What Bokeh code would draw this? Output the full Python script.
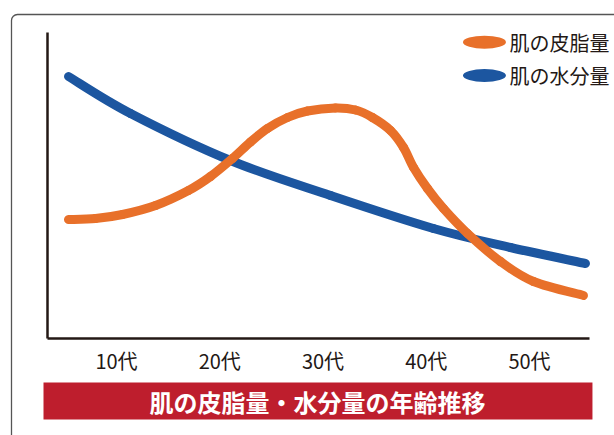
from bokeh.plotting import figure
from bokeh.models import Range1d, BoxAnnotation, Label, FixedTicker
from bokeh.embed import file_html
from bokeh.resources import INLINE

# age (years) and relative level
sebum_age = [5.35, 7.97, 10.58, 13.78, 16.97, 19.1, 21.23, 22.98, 24.62, 26.56, 28.5, 31.21, 33.15,
             34.79, 36.54, 37.8, 38.77, 40.12, 41.67, 44.0, 47.19, 50.39, 55.23]
sebum_level = [119, 120, 124, 133, 148, 162, 180, 196.5, 210, 221, 227.5, 230.5, 228.5,
               221, 208, 191, 171, 150, 130, 105, 77, 57, 43]

water_age = [5.35, 11.36, 21.04, 30.73, 40.7, 48.16, 55.42]
water_level = [262, 225, 178, 143, 110, 91, 75]

tick_values = [10, 20, 30, 40, 50]
tick_labels = ["10代", "20代", "30代", "40代", "50代"]

series_names = ["肌の皮脂量", "肌の水分量"]
series_colors = ["#e8702a", "#1c56a0"]
title_text = "肌の皮脂量・水分量の年齢推移"

FONT = "Noto Sans CJK JP"
INK = "#231815"

AGE_MIN, AGE_MAX = 3.32, 55.8
LEVEL_MAX = 306

p = figure(width=614, height=435, output_backend="svg", toolbar_location=None,
           x_range=Range1d(-1.235, 58.235), y_range=Range1d(-97, 338),
           min_border=0)
p.outline_line_color = None
p.grid.visible = False
p.background_fill_color = "white"
p.border_fill_color = "white"

# axes placed at fixed data positions
p.xaxis.fixed_location = 0
p.yaxis.fixed_location = AGE_MIN
p.xaxis.bounds = (AGE_MIN, AGE_MAX)
p.yaxis.bounds = (0, LEVEL_MAX)
p.xaxis.ticker = FixedTicker(ticks=tick_values)
p.xaxis.major_label_overrides = {v: l for v, l in zip(tick_values, tick_labels)}
p.xaxis.major_label_text_font = FONT
p.xaxis.major_label_text_font_size = "20px"
p.xaxis.major_label_text_color = INK
p.xaxis.major_label_standoff = 7
p.yaxis.ticker = FixedTicker(ticks=[])
p.yaxis.major_label_text_font_size = "0px"
for ax in (p.xaxis, p.yaxis):
    ax.axis_line_color = INK
    ax.axis_line_width = 2.5
    ax.major_tick_out = 0
    ax.major_tick_in = 0
    ax.minor_tick_out = 0
    ax.minor_tick_in = 0


def smooth_segments(xs, ys):
    """Catmull-Rom control points for drawing a smooth curve through the read points."""
    n = len(xs)
    out = {k: [] for k in ("x0", "y0", "x1", "y1", "cx0", "cy0", "cx1", "cy1")}
    for i in range(n - 1):
        xm, ym = (xs[i - 1], ys[i - 1]) if i > 0 else (xs[i], ys[i])
        xp, yp = (xs[i + 2], ys[i + 2]) if i + 2 < n else (xs[i + 1], ys[i + 1])
        out["x0"].append(xs[i]); out["y0"].append(ys[i])
        out["x1"].append(xs[i + 1]); out["y1"].append(ys[i + 1])
        out["cx0"].append(xs[i] + (xs[i + 1] - xm) / 6)
        out["cy0"].append(ys[i] + (ys[i + 1] - ym) / 6)
        out["cx1"].append(xs[i + 1] - (xp - xs[i]) / 6)
        out["cy1"].append(ys[i + 1] - (yp - ys[i]) / 6)
    return out


for xs, ys, col in ((water_age, water_level, series_colors[1]), (sebum_age, sebum_level, series_colors[0])):
    seg = smooth_segments(xs, ys)
    p.bezier(line_width=9, line_color=col, line_cap="round", **seg)

# legend
leg_x = [45.64, 45.64]
leg_y = [296.3, 263]
p.ellipse(x=leg_x, y=leg_y, width=43, height=13, width_units="screen", height_units="screen",
          fill_color=series_colors, line_color=None)
for name, yy in zip(series_names, leg_y):
    p.add_layout(Label(x=48.06, y=yy, text=name, text_font=FONT, text_font_size="20px",
                       text_color=INK, text_baseline="middle", text_align="left"))

# outer rounded frame
p.add_layout(BoxAnnotation(left=-0.17, right=80, top=324, bottom=-300,
                           fill_alpha=0, line_color="#555555", line_alpha=1, line_width=1.3,
                           border_radius=6))

# title banner
p.add_layout(BoxAnnotation(left=2.93, right=56.1, top=-44, bottom=-81,
                           fill_color="#be1e2d", fill_alpha=1, line_color=None))
p.add_layout(Label(x=29.47, y=-63, text=title_text,
                   text_font=FONT, text_font_size="24px", text_font_style="bold",
                   text_color="white", text_align="center", text_baseline="middle"))

open("out.html", "w").write(file_html(p, INLINE))
